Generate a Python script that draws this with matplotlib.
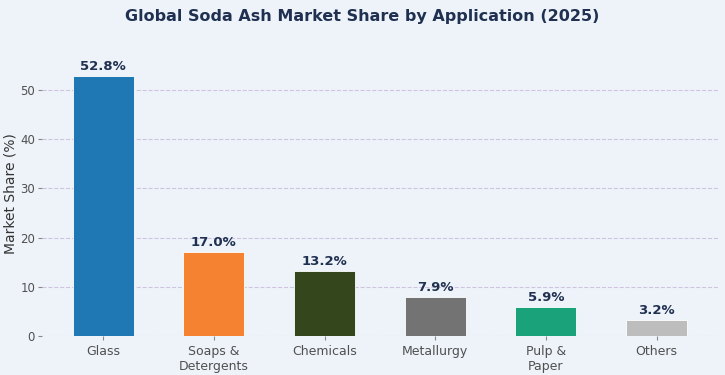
import matplotlib
matplotlib.use("Agg")
import matplotlib.pyplot as plt

categories = ["Glass", "Soaps &\nDetergents", "Chemicals", "Metallurgy", "Pulp &\nPaper", "Others"]
shares = [52.8, 17.0, 13.2, 7.9, 5.9, 3.2]
colors = ["#1f77b4", "#f58231", "#34471c", "#737373", "#1aa37a", "#bdbdbd"]

bg = "#eef3fa"
fig, ax = plt.subplots(figsize=(7.25, 3.75), dpi=100)
fig.patch.set_facecolor(bg)
ax.set_facecolor(bg)

x = range(len(categories))
bars = ax.bar(x, shares, width=0.55, color=colors, edgecolor="white", linewidth=0.6, zorder=3)

for b, v in zip(bars, shares):
    ax.text(b.get_x() + b.get_width() / 2, v + 0.6, f"{v:.1f}%",
            ha="center", va="bottom", fontsize=9.5, fontweight="bold", color="#1f3050")

ax.set_xticks(list(x))
ax.set_xticklabels(categories, fontsize=9, color="#505050")
ax.tick_params(axis="y", labelsize=8.5, labelcolor="#505050", color="#888888", length=3, pad=2)
ax.tick_params(axis="x", color="#888888", length=3)
ax.set_ylabel("Market Share (%)", fontsize=10, color="#333333", labelpad=2)
ax.set_ylim(0, 58)
ax.set_yticks([0, 10, 20, 30, 40, 50])

ax.grid(axis="y", linestyle="--", color="#c8b8d8", alpha=0.8, linewidth=0.8, zorder=0)
for s in ax.spines.values():
    s.set_visible(False)

fig.suptitle("Global Soda Ash Market Share by Application (2025)", fontsize=11.5,
             fontweight="bold", color="#1f3050", y=0.975)

plt.subplots_adjust(left=0.058, right=0.99, bottom=0.104, top=0.865)
plt.savefig("out.png", dpi=100, facecolor=bg)
